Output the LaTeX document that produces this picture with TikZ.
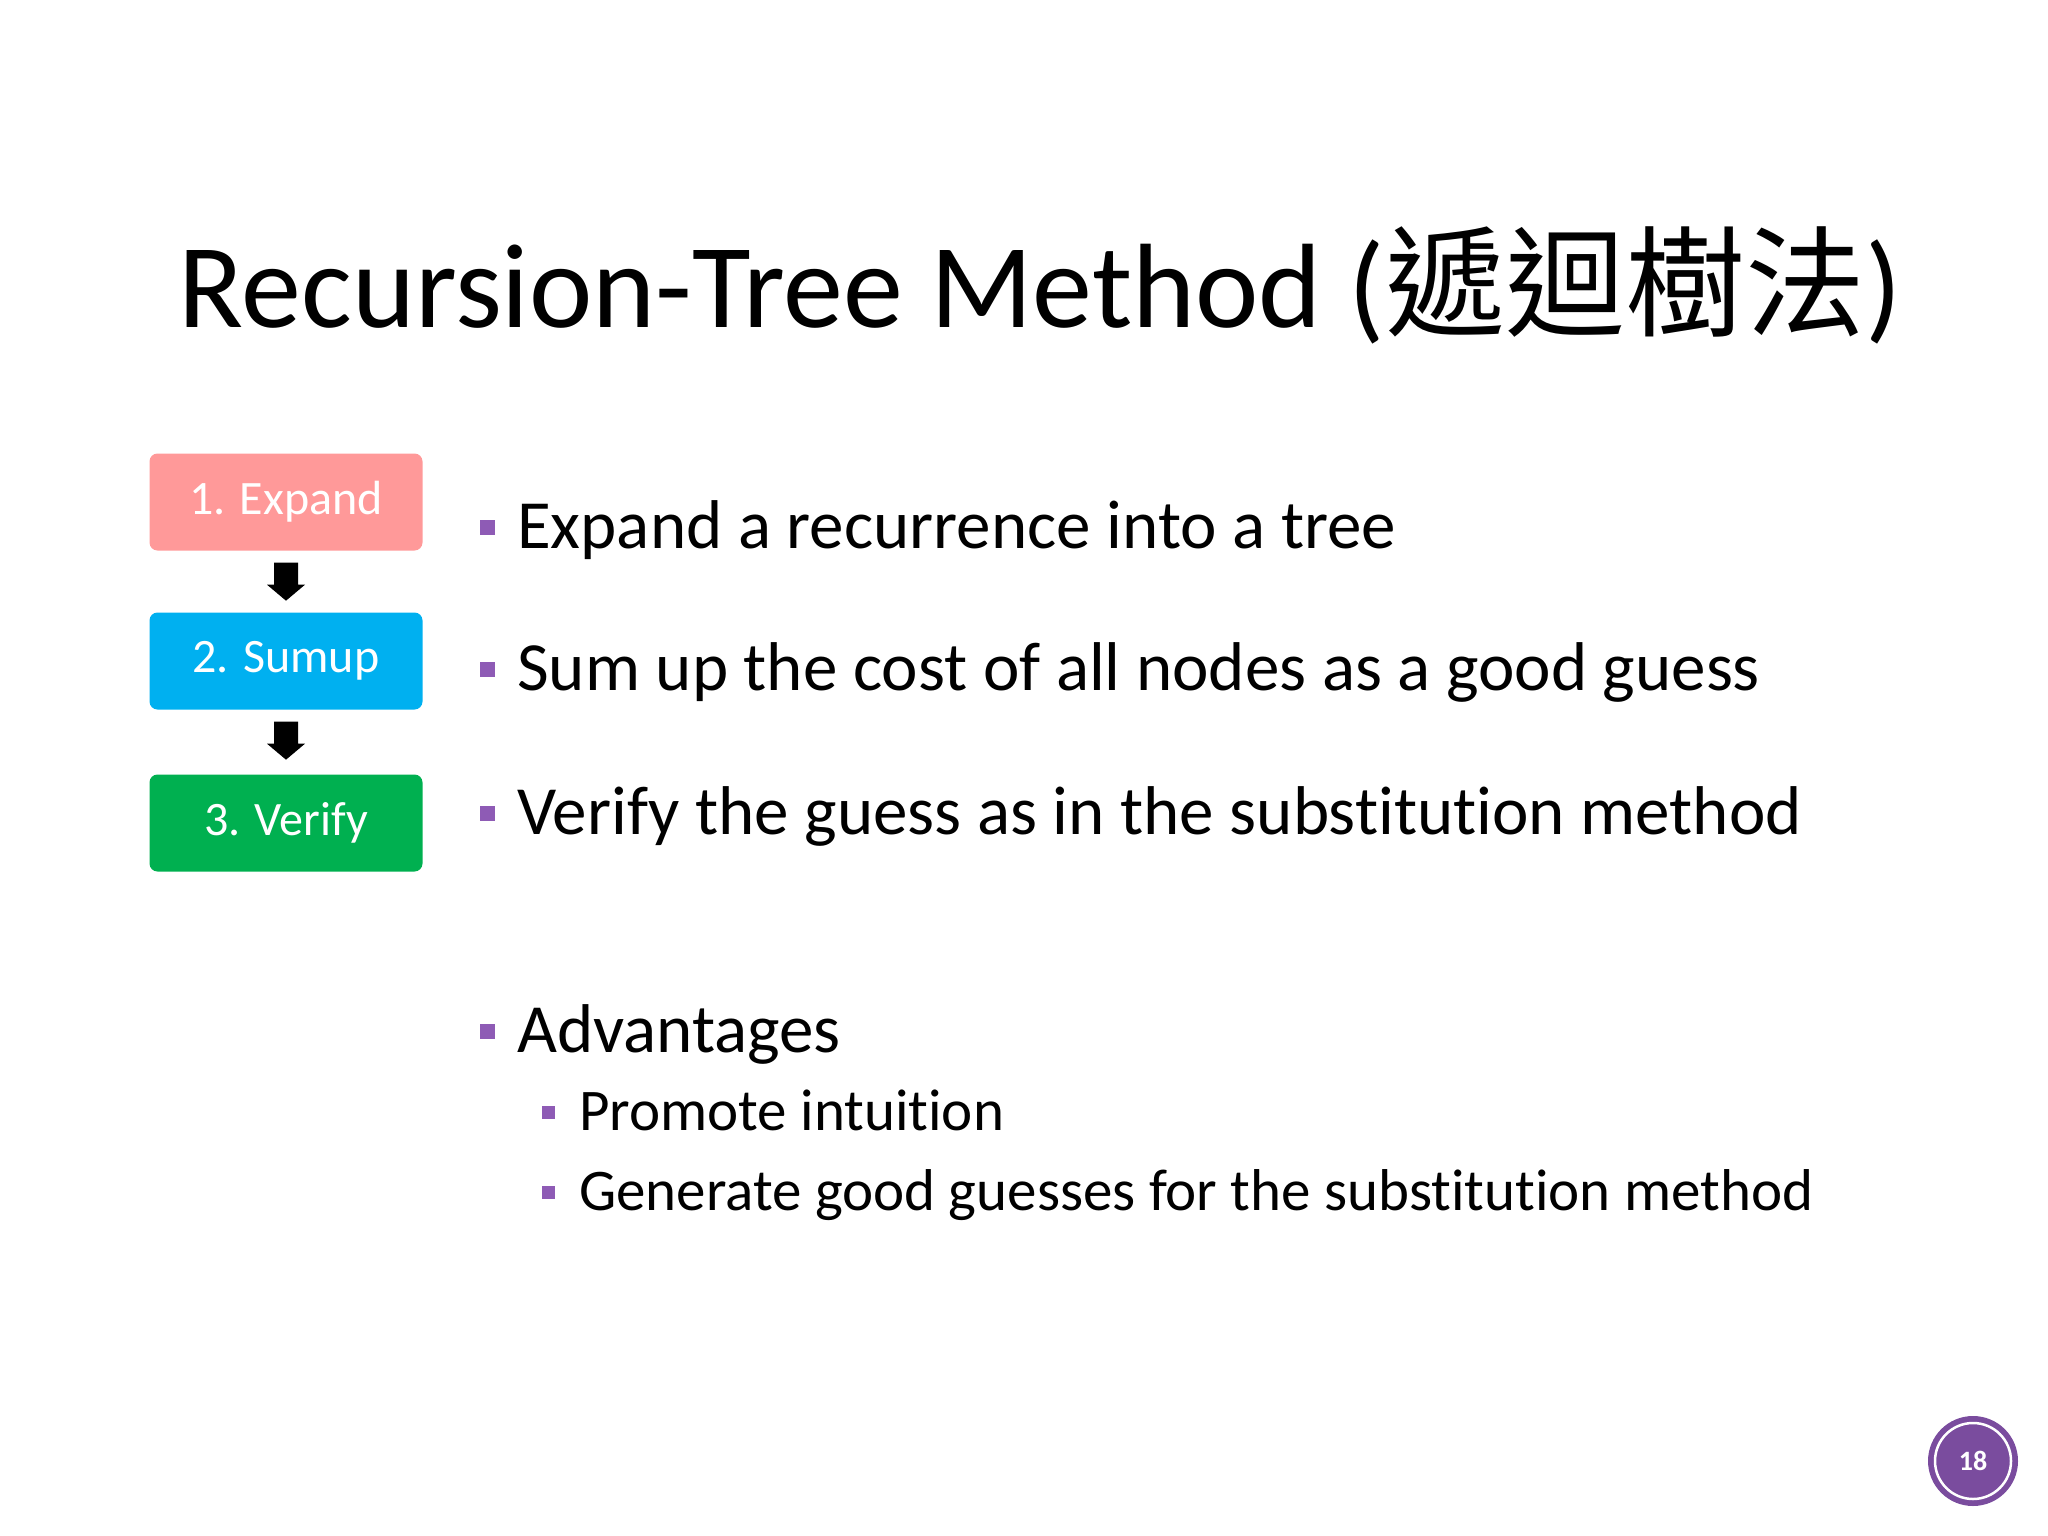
\documentclass[tikz,border=0pt]{standalone}
\usepackage{fontspec}
\setmainfont[RawFeature=-liga]{Carlito}
\newfontfamily\cjk{Noto Sans CJK TC}
\definecolor{bul}{HTML}{8E5BB5}
\definecolor{pinkb}{HTML}{FF9999}
\definecolor{blueb}{HTML}{00B0F0}
\definecolor{greenb}{HTML}{00B050}
\definecolor{purc}{HTML}{7A4C9E}
\begin{document}
\begin{tikzpicture}[x=1pt,y=-1pt,
  stepbox/.style={rounded corners=8pt,minimum width=273pt,minimum height=97pt,text=white,font=\fontsize{48}{48}\selectfont,inner sep=0pt},
  btxt/.style={anchor=base west,inner sep=0pt,font=\fontsize{69}{69}\selectfont},
  stxt/.style={anchor=base west,inner sep=0pt,font=\fontsize{59}{59}\selectfont},
  bsq/.style={fill=bul,minimum size=15pt,inner sep=0pt},
  ssq/.style={fill=bul,minimum size=13pt,inner sep=0pt},
  barrow/.style={fill=black}]
\useasboundingbox (0,0) rectangle (2048,1536);
\node[anchor=base,inner sep=0pt,font=\fontsize{120}{120}\selectfont] (title) at (1040,327) {Recursion-Tree Method ({\cjk 遞迴樹法})};
\node[stepbox,fill=pinkb] (s1) at (286,502) {1. Expand};
\node[stepbox,fill=blueb] (s2) at (286,661) {2. Sumup};
\node[stepbox,fill=greenb] (s3) at (286,823) {3. Verify};
\coordinate (a1) at (s1.south);
\coordinate (a2) at (s2.south);
\fill[barrow] ([xshift=-12pt,yshift=-12pt]a1) -- ++(24,0) -- ++(0,22) -- ++(7,0) -- ++(-19,16) -- ++(-19,-16) -- ++(7,0) -- cycle;
\fill[barrow] ([xshift=-12pt,yshift=-12pt]a2) -- ++(24,0) -- ++(0,22) -- ++(7,0) -- ++(-19,16) -- ++(-19,-16) -- ++(7,0) -- cycle;
\node[bsq] (q1) at (487,527) {};
\node[btxt] (t1) at (517,548) {Expand a recurrence into a tree};
\node[bsq] (q2) at (487,669) {};
\node[btxt] (t2) at (517,690) {Sum up the cost of all nodes as a good guess};
\node[bsq] (q3) at (487,813) {};
\node[btxt] (t3) at (517,834) {Verify the guess as in the substitution method};
\node[bsq] (q4) at (487,1031) {};
\node[btxt] (t4) at (517,1052) {Advantages};
\node[ssq] (q5) at (548,1112) {};
\node[stxt] (t5) at (579,1130) {Promote intuition};
\node[ssq] (q6) at (548,1192) {};
\node[stxt] (t6) at (579,1210) {Generate good guesses for the substitution method};
\node[circle,fill=purc,minimum size=90pt,inner sep=0pt] (pg) at (1973,1461) {};
\draw[white,line width=2.5pt] (pg.center) circle (38pt);
\node[text=white,font=\bfseries\fontsize{28}{28}\selectfont] (pn) at (pg.center) {18};
\end{tikzpicture}
\end{document}
